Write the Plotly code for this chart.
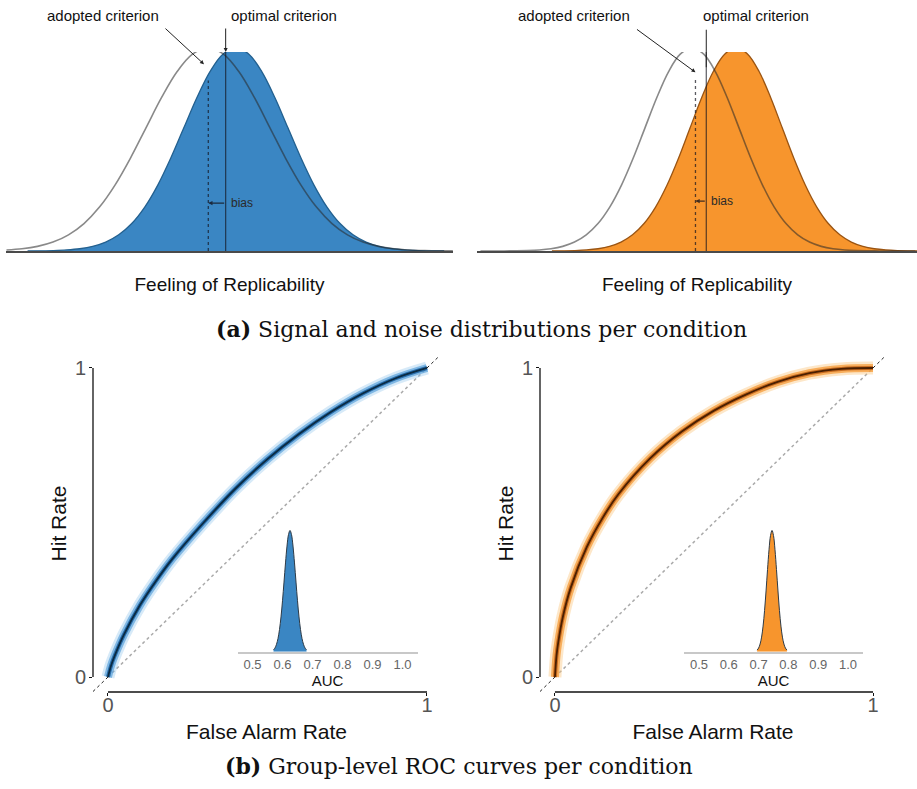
import plotly.graph_objects as go

W, H = 917, 789
SANS = "Liberation Sans, Arial, Helvetica, sans-serif"
SERIF = "DejaVu Serif, Liberation Serif, serif"

# ---------------- (a) signal and noise distributions (x in noise-SD units) ----------------
# left condition (blue)
noise_x_L = [-3.25, -3.0, -2.75, -2.5, -2.25, -2.0, -1.75, -1.5, -1.25, -1.0, -0.75, -0.5, -0.25, 0.0,
             0.25, 0.5, 0.75, 1.0, 1.25, 1.5, 1.75, 2.0, 2.25, 2.5, 2.75, 3.0, 3.25, 3.5, 3.75, 3.95]
noise_y_L = [0.0051, 0.0111, 0.0228, 0.0439, 0.0796, 0.1353, 0.2163, 0.3247, 0.4578, 0.6065, 0.7548, 0.8825,
             0.9692, 1.0, 0.9692, 0.8825, 0.7548, 0.6065, 0.4578, 0.3247, 0.2163, 0.1353, 0.0796, 0.0439,
             0.0228, 0.0111, 0.0051, 0.0022, 0.0009, 0.0004]
signal_x_L = [-2.91, -2.70, -2.49, -2.28, -2.07, -1.86, -1.65, -1.44, -1.23, -1.02, -0.81, -0.60, -0.39, -0.18,
              0.03, 0.24, 0.45, 0.66, 0.87, 1.08, 1.29, 1.50, 1.71, 1.92, 2.13, 2.34, 2.55, 2.76, 2.97, 3.18,
              3.39, 3.60, 3.81]
signal_y_L = [0.0003, 0.0009, 0.0022, 0.0051, 0.0111, 0.0228, 0.0439, 0.0796, 0.1353, 0.2163, 0.3247, 0.4578,
              0.6065, 0.7548, 0.8825, 0.9692, 1.0, 0.9692, 0.8825, 0.7548, 0.6065, 0.4578, 0.3247, 0.2163,
              0.1353, 0.0796, 0.0439, 0.0228, 0.0111, 0.0051, 0.0022, 0.0009, 0.0003]
adopted_L, optimal_L = 0.005, 0.285

# right condition (orange)
noise_x_R = [-4.5, -4.25, -4.0, -3.75, -3.5, -3.25, -3.0, -2.75, -2.5, -2.25, -2.0, -1.75, -1.5, -1.25, -1.0,
             -0.75, -0.5, -0.25, 0.0, 0.25, 0.5, 0.75, 1.0, 1.25, 1.5, 1.75, 2.0, 2.25, 2.5, 2.75, 3.0, 3.25,
             3.5, 3.75, 4.0, 4.25, 4.5, 4.75]
noise_y_R = [0.0, 0.0001, 0.0003, 0.0009, 0.0022, 0.0051, 0.0111, 0.0228, 0.0439, 0.0796, 0.1353, 0.2163,
             0.3247, 0.4578, 0.6065, 0.7548, 0.8825, 0.9692, 1.0, 0.9692, 0.8825, 0.7548, 0.6065, 0.4578,
             0.3247, 0.2163, 0.1353, 0.0796, 0.0439, 0.0228, 0.0111, 0.0051, 0.0022, 0.0009, 0.0003, 0.0001,
             0.0, 0.0]
signal_x_R = [-2.98, -2.735, -2.49, -2.245, -2.0, -1.755, -1.51, -1.265, -1.02, -0.775, -0.53, -0.285, -0.04,
              0.205, 0.45, 0.695, 0.94, 1.185, 1.43, 1.675, 1.92, 2.165, 2.41, 2.655, 2.9, 3.145, 3.39, 3.635,
              3.88, 4.125, 4.37, 4.615, 4.86]
signal_y_R = [0.0003, 0.0009, 0.0022, 0.0051, 0.0111, 0.0228, 0.0439, 0.0796, 0.1353, 0.2163, 0.3247, 0.4578,
              0.6065, 0.7548, 0.8825, 0.9692, 1.0, 0.9692, 0.8825, 0.7548, 0.6065, 0.4578, 0.3247, 0.2163,
              0.1353, 0.0796, 0.0439, 0.0228, 0.0111, 0.0051, 0.0022, 0.0009, 0.0003]
adopted_R, optimal_R = 0.074, 0.304

adopted_top = [0.84, 0.857]
bias_level = [0.236, 0.246]

# ---------------- (b) group-level ROC curves ----------------
roc_far_L = [0.0, 0.01, 0.025, 0.05, 0.1, 0.15, 0.2, 0.3, 0.4, 0.5, 0.6, 0.7, 0.8, 0.9, 1.0]
roc_hit_L = [0.0, 0.038, 0.079, 0.137, 0.232, 0.31, 0.38, 0.50, 0.61, 0.705, 0.787, 0.858, 0.918, 0.966, 1.0]
roc_far_R = [0.0, 0.005, 0.01, 0.025, 0.05, 0.1, 0.15, 0.2, 0.3, 0.4, 0.5, 0.6, 0.7, 0.8, 0.9, 1.0]
roc_hit_R = [0.0, 0.07, 0.11, 0.195, 0.29, 0.42, 0.515, 0.592, 0.708, 0.795, 0.862, 0.914, 0.955, 0.983, 0.997,
             1.0]
chance = [0.0, 1.0]

# AUC posterior densities (insets)
auc_x_L = [0.57, 0.575, 0.58, 0.585, 0.59, 0.595, 0.60, 0.605, 0.61, 0.615, 0.62, 0.625, 0.63, 0.635, 0.64,
           0.645, 0.65, 0.655, 0.66, 0.665, 0.67, 0.675, 0.68]
auc_d_L = [0.015, 0.031, 0.061, 0.109, 0.183, 0.287, 0.42, 0.574, 0.732, 0.871, 0.966, 1.0, 0.966, 0.871,
           0.732, 0.574, 0.42, 0.287, 0.183, 0.109, 0.061, 0.031, 0.015]
auc_x_R = [0.695, 0.70, 0.705, 0.71, 0.715, 0.72, 0.725, 0.73, 0.735, 0.74, 0.745, 0.75, 0.755, 0.76, 0.765,
           0.77, 0.775, 0.78, 0.785, 0.79, 0.795]
auc_d_R = [0.013, 0.030, 0.063, 0.120, 0.211, 0.339, 0.501, 0.678, 0.841, 0.958, 1.0, 0.958, 0.841, 0.678,
           0.501, 0.339, 0.211, 0.120, 0.063, 0.030, 0.013]
auc_ticks = [0.5, 0.6, 0.7, 0.8, 0.9, 1.0]
auc_ticktext = ["0.5", "0.6", "0.7", "0.8", "0.9", "1.0"]

BLUE_FILL, ORANGE_FILL = "#3a86c3", "#f7952d"


def px(x):
    return x / W


def py(y):
    return 1 - y / H


fig = go.Figure()

# ---------- top panels ----------
for i, (nx, ny, sx, sy, ad, op, fill, edge, axn) in enumerate([
        (noise_x_L, noise_y_L, signal_x_L, signal_y_L, adopted_L, optimal_L, BLUE_FILL, "#23608f", ""),
        (noise_x_R, noise_y_R, signal_x_R, signal_y_R, adopted_R, optimal_R, ORANGE_FILL, "#9a5412", "2")]):
    xa, ya = "x" + axn, "y" + axn
    fig.add_trace(go.Scatter(x=sx, y=sy, mode="lines", line=dict(color=edge, width=1.3, shape="spline"),
                             fill="tozeroy", fillcolor=fill, xaxis=xa, yaxis=ya, showlegend=False,
                             hoverinfo="skip"))
    fig.add_trace(go.Scatter(x=nx, y=ny, mode="lines",
                             line=dict(color="rgba(40,40,40,0.55)", width=1.6, shape="spline"),
                             xaxis=xa, yaxis=ya, showlegend=False, hoverinfo="skip"))
    fig.add_trace(go.Scatter(x=[ad, ad], y=[0, adopted_top[i]], mode="lines",
                             line=dict(color="rgba(20,20,30,0.7)", width=1.3, dash="3px,3px"),
                             xaxis=xa, yaxis=ya, showlegend=False, hoverinfo="skip"))
    fig.add_trace(go.Scatter(x=[op, op], y=[0, 1.0], mode="lines",
                             line=dict(color="rgba(20,20,30,0.7)", width=1.2),
                             xaxis=xa, yaxis=ya, showlegend=False, hoverinfo="skip"))
    # bias arrow + label
    fig.add_annotation(x=ad, y=bias_level[i], ax=op, ay=bias_level[i], xref=xa, yref=ya, axref=xa, ayref=ya,
                       text="", showarrow=True, arrowhead=2, arrowsize=0.7, arrowwidth=1.2,
                       arrowcolor="rgba(20,20,30,0.8)")
    fig.add_annotation(x=op, y=bias_level[i], xref=xa, yref=ya, text="bias", showarrow=False,
                       xanchor="left", yanchor="middle", xshift=3,
                       font=dict(family=SANS, size=12, color="#2a2a2a"))

# criterion pointers
fig.add_annotation(x=-0.065, y=0.92, xref="x", yref="y", ax=-40, ay=-37, text="", showarrow=True,
                   arrowhead=2, arrowsize=0.8, arrowwidth=1, arrowcolor="#222")
fig.add_annotation(x=optimal_L, y=0.98, xref="x", yref="y", ax=0, ay=-25, text="", showarrow=True,
                   arrowhead=2, arrowsize=0.8, arrowwidth=1, arrowcolor="#222")
fig.add_annotation(x=adopted_R, y=0.88, xref="x2", yref="y2", ax=-60, ay=-44, text="", showarrow=True,
                   arrowhead=2, arrowsize=0.8, arrowwidth=1, arrowcolor="#222")
fig.add_annotation(x=optimal_R, y=0.905, xref="x2", yref="y2", ax=0, ay=-39, text="", showarrow=True,
                   arrowhead=0, arrowwidth=1, arrowcolor="#222")
for (tx, t) in [(102.5, "adopted criterion"), (284, "optimal criterion"),
                (573.5, "adopted criterion"), (755.5, "optimal criterion")]:
    fig.add_annotation(x=px(tx), y=py(15), xref="paper", yref="paper", text=t, showarrow=False,
                       xanchor="center", yanchor="middle", font=dict(family=SANS, size=15, color="#111"))

# ---------- ROC panels ----------
roc_styles = [
    (roc_far_L, roc_hit_L, "3", ["rgba(140,195,235,0.35)", "rgba(70,150,215,0.6)", "rgba(25,95,160,0.85)", "#0a2a42"]),
    (roc_far_R, roc_hit_R, "4", ["rgba(250,195,120,0.4)", "rgba(245,150,45,0.7)", "rgba(190,95,20,0.85)", "#4a1f00"]),
]
for fx, hy, axn, cols in roc_styles:
    xa, ya = "x" + axn, "y" + axn
    fig.add_trace(go.Scatter(x=[-0.047, chance[0]], y=[-0.047, chance[0]], mode="lines",
                             line=dict(color="#222", width=1, dash="3px,3px"), xaxis=xa, yaxis=ya,
                             showlegend=False, hoverinfo="skip"))
    fig.add_trace(go.Scatter(x=[chance[1], 1.04], y=[chance[1], 1.04], mode="lines",
                             line=dict(color="#222", width=1, dash="3px,3px"), xaxis=xa, yaxis=ya,
                             showlegend=False, hoverinfo="skip"))
    fig.add_trace(go.Scatter(x=chance, y=chance, mode="lines",
                             line=dict(color="#aaaaaa", width=1.5, dash="dot"), xaxis=xa, yaxis=ya,
                             showlegend=False, hoverinfo="skip"))
    for w, c in zip([13, 8, 4, 1.8], cols):
        fig.add_trace(go.Scatter(x=fx, y=hy, mode="lines", line=dict(color=c, width=w, shape="spline"),
                                 xaxis=xa, yaxis=ya, showlegend=False, hoverinfo="skip"))

# ---------- AUC insets ----------
for ax_x, ad, axn, fill in [(auc_x_L, auc_d_L, "5", BLUE_FILL), (auc_x_R, auc_d_R, "6", ORANGE_FILL)]:
    fig.add_trace(go.Scatter(x=ax_x, y=ad, mode="lines", line=dict(color="#2d3a46", width=1, shape="spline"),
                             fill="tozeroy", fillcolor=fill, xaxis="x" + axn, yaxis="y" + axn,
                             showlegend=False, hoverinfo="skip"))

# ---------- axes ----------
top_y = 1 - 251 / H, 1 - 52 / H
bot_y = 1 - 692 / H, 1 - 355 / H
common_top_x = dict(showline=True, linecolor="#4a4a4a", linewidth=2, showticklabels=False, ticks="",
                    showgrid=False, zeroline=False, automargin=False,
                    title=dict(text="Feeling of Replicability", font=dict(family=SANS, size=19, color="#111"),
                               standoff=26))
common_top_y = dict(range=[0, 0.98], visible=False, showgrid=False, zeroline=False)
roc_x = dict(range=[-0.047, 1.0408], tickvals=[0, 1], ticktext=["0", "1"], ticks="outside", ticklen=3,
             tickcolor="#111", showline=False, showgrid=False, zeroline=False, automargin=False,
             ticklabelstandoff=-8,
             tickfont=dict(family=SANS, size=20, color="#555"),
             title=dict(text="False Alarm Rate", font=dict(family=SANS, size=21, color="#111"), standoff=9))
roc_y = dict(range=[-0.0485, 1.042], tickvals=[0, 1], ticktext=["0", "1"], ticks="outside", ticklen=3,
             tickcolor="#111", showline=False, showgrid=False, zeroline=False, automargin=False,
             ticklabelstandoff=-1,
             tickfont=dict(family=SANS, size=20, color="#555"),
             title=dict(text="Hit Rate", font=dict(family=SANS, size=21, color="#111"), standoff=2))
inset_x = dict(range=[0.45, 1.05], tickvals=auc_ticks, ticktext=auc_ticktext, ticks="", showline=True,
               linecolor="#c8c8c8", linewidth=1.5, showgrid=False, zeroline=False, automargin=False,
               tickfont=dict(family=SANS, size=13, color="#666"),
               title=dict(text="AUC", font=dict(family=SANS, size=15, color="#111"), standoff=0))
inset_y = dict(range=[0, 1.02], visible=False, showgrid=False, zeroline=False)

fig.update_layout(
    width=W, height=H, margin=dict(l=0, r=0, t=0, b=0),
    paper_bgcolor="white", plot_bgcolor="rgba(0,0,0,0)", showlegend=False,
    xaxis=dict(domain=[px(6), px(453)], range=[-3.258, 3.952], anchor="y", **common_top_x),
    yaxis=dict(domain=list(top_y), anchor="x", **common_top_y),
    xaxis2=dict(domain=[px(477), 1.0], range=[-4.574, 4.787], anchor="y2", **common_top_x),
    yaxis2=dict(domain=list(top_y), anchor="x2", **common_top_y),
    xaxis3=dict(domain=[px(93), px(440)], anchor="y3", **roc_x),
    yaxis3=dict(domain=list(bot_y), anchor="x3", **roc_y),
    xaxis4=dict(domain=[px(540), px(886)], anchor="y4", **roc_x),
    yaxis4=dict(domain=list(bot_y), anchor="x4", **roc_y),
    xaxis5=dict(domain=[px(237.5), px(417.5)], anchor="y5", **inset_x),
    yaxis5=dict(domain=[1 - 651.7 / H, 1 - 528 / H], anchor="x5", **inset_y),
    xaxis6=dict(domain=[px(684.1), px(862.9)], anchor="y6", **inset_x),
    yaxis6=dict(domain=[1 - 651.7 / H, 1 - 528 / H], anchor="x6", **inset_y),
)

# offset axis lines of the ROC panels (R style)
for axn in ["3", "4"]:
    fig.add_shape(type="line", xref="x" + axn, yref="y" + axn + " domain", x0=0, x1=1, y0=0, y1=0,
                  line=dict(color="#111", width=1.3))
    fig.add_shape(type="line", xref="x" + axn + " domain", yref="y" + axn, x0=0, x1=0, y0=0, y1=1,
                  line=dict(color="#111", width=1.3))

# sub-captions
fig.add_annotation(x=px(481), y=py(329), xref="paper", yref="paper", showarrow=False,
                   xanchor="center", yanchor="middle",
                   text="<b>(a)</b> Signal and noise distributions per condition",
                   font=dict(family=SERIF, size=22, color="#111"))
fig.add_annotation(x=px(459), y=py(766), xref="paper", yref="paper", showarrow=False,
                   xanchor="center", yanchor="middle",
                   text="<b>(b)</b> Group-level ROC curves per condition",
                   font=dict(family=SERIF, size=22, color="#111"))

fig.write_html("out.html")
